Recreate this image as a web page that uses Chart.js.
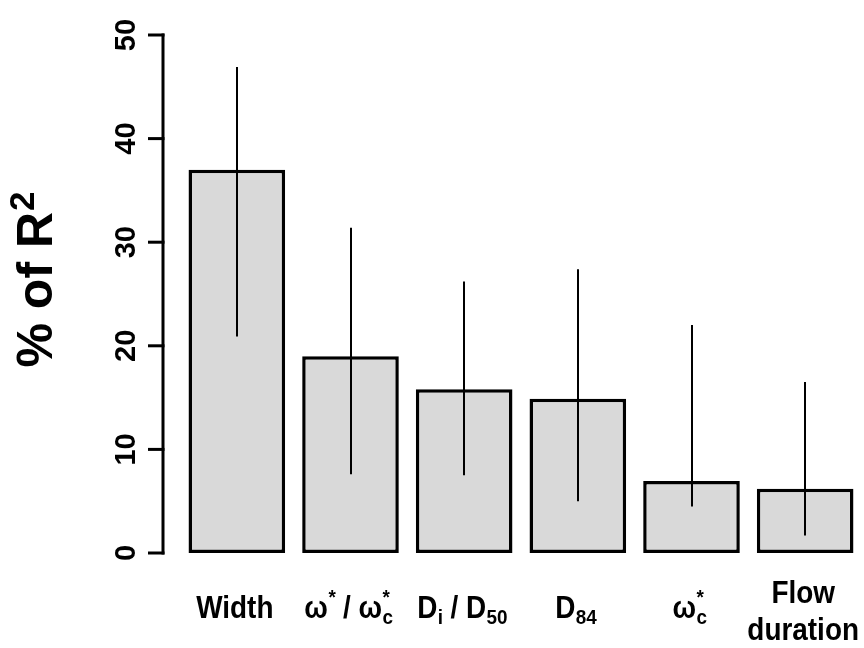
<!DOCTYPE html>
<html>
<head>
<meta charset="utf-8">
<script src="https://cdn.jsdelivr.net/npm/chart.js@4/dist/chart.umd.min.js"></script>
<style>
  html, body { margin: 0; padding: 0; background: #ffffff; }
  #wrap { width: 864px; height: 648px; }
</style>
</head>
<body>
<div id="wrap"><canvas id="c" width="864" height="648"></canvas></div>
<script>
// ---- data ----
const categories = ['Width', 'ω*/ωc*', 'Di/D50', 'D84', 'ωc*', 'Flow duration'];
const values = [37.0, 19.0, 15.8, 14.9, 6.95, 6.2];
const errLow = [20.9, 7.6, 7.5, 5.0, 4.5, 1.7];
const errHigh = [46.9, 31.4, 26.2, 27.4, 22.0, 16.5];
const yTicks = [0, 10, 20, 30, 40, 50];
const yTitle = ['% of R', '2'];
// rich label pieces: each label = lines; each line = segments [base, sub, sup]
const labelLines = [
  [[['Width']]],
  [[['ω', '', '*'], [' / '], ['ω', 'c', '*']]],
  [[['D', 'i'], [' / '], ['D', '50']]],
  [[['D', '84']]],
  [[['ω', 'c', '*']]],
  [[['Flow']], [['duration']]]
];

const FONT = "'Liberation Sans', Arial, sans-serif";

const decorPlugin = {
  id: 'decor',
  afterDatasetsDraw(chart) {
    const ctx = chart.ctx;
    const x = chart.scales.x, y = chart.scales.y;
    ctx.save();
    // error bars
    ctx.strokeStyle = '#000';
    ctx.lineWidth = 2;
    ctx.lineCap = 'butt';
    for (let i = 0; i < values.length; i++) {
      const px = Math.round(x.getPixelForValue(i));
      ctx.beginPath();
      ctx.moveTo(px, y.getPixelForValue(errLow[i]));
      ctx.lineTo(px, y.getPixelForValue(errHigh[i]));
      ctx.stroke();
    }
    // y axis (detached, R style)
    const ax = 163;
    ctx.lineWidth = 3;
    ctx.beginPath();
    ctx.moveTo(ax, y.getPixelForValue(yTicks[0]) + 1.5);
    ctx.lineTo(ax, y.getPixelForValue(yTicks[yTicks.length - 1]) - 1.5);
    ctx.stroke();
    ctx.fillStyle = '#000';
    ctx.font = 'bold 29px ' + FONT;
    ctx.textAlign = 'center';
    ctx.textBaseline = 'alphabetic';
    yTicks.forEach(v => {
      const py = y.getPixelForValue(v);
      ctx.beginPath();
      ctx.moveTo(148, py);
      ctx.lineTo(ax + 1.5, py);
      ctx.stroke();
      ctx.save();
      ctx.translate(135, py);
      ctx.rotate(-Math.PI / 2);
      ctx.fillText(String(v), 0, 0);
      ctx.restore();
    });
    // y title
    ctx.save();
    ctx.translate(52, 280);
    ctx.rotate(-Math.PI / 2);
    ctx.font = 'bold 50px ' + FONT;
    const w1 = ctx.measureText(yTitle[0]).width;
    ctx.font = 'bold 35px ' + FONT;
    const w2 = ctx.measureText(yTitle[1]).width;
    const start = -(w1 + w2) / 2;
    ctx.textAlign = 'left';
    ctx.font = 'bold 50px ' + FONT;
    ctx.fillText(yTitle[0], start, 0);
    ctx.font = 'bold 35px ' + FONT;
    ctx.fillText(yTitle[1], start + w1 + 1, -18);
    ctx.restore();

    // x labels
    const fs = 31, sfs = 21, sx = 0.9;
    const mainF = 'bold ' + fs + 'px ' + FONT;
    const smallF = 'bold ' + sfs + 'px ' + FONT;
    ctx.textAlign = 'left';
    labelLines.forEach((lines, i) => {
      const cx = x.getPixelForValue(i) - 2;
      const nL = lines.length;
      lines.forEach((segs, li) => {
        const base = nL === 1 ? 618 : 603 + li * 37;
        let total = 0;
        const widths = segs.map(s => {
          ctx.font = mainF;
          const wb = ctx.measureText(s[0]).width;
          ctx.font = smallF;
          const ws = s[1] ? ctx.measureText(s[1]).width : 0;
          const wp = s[2] ? ctx.measureText(s[2]).width : 0;
          const w = wb + Math.max(ws, wp);
          total += w;
          return [wb, w];
        });
        ctx.save();
        ctx.translate(cx, base);
        ctx.scale(sx, 1);
        let pos = -total / 2;
        segs.forEach((s, k) => {
          ctx.font = mainF;
          ctx.fillText(s[0], pos, 0);
          ctx.font = smallF;
          if (s[1]) ctx.fillText(s[1], pos + widths[k][0] + 0.5, 6);
          if (s[2]) ctx.fillText(s[2], pos + widths[k][0] + 0.5, -14);
          pos += widths[k][1];
        });
        ctx.restore();
      });
    });
    ctx.restore();
  }
};

new Chart(document.getElementById('c'), {
  type: 'bar',
  data: {
    labels: categories,
    datasets: [{
      data: values,
      backgroundColor: '#d9d9d9',
      borderColor: '#000000',
      borderWidth: 3.5,
      borderSkipped: false,
      barPercentage: 0.85,
      categoryPercentage: 1
    }]
  },
  options: {
    responsive: false,
    animation: false,
    devicePixelRatio: 1,
    layout: { padding: { left: 180, right: 2, top: 35, bottom: 95 } },
    plugins: { legend: { display: false }, tooltip: { enabled: false } },
    scales: {
      x: { display: false },
      y: { display: false, min: 0, max: 50 }
    }
  },
  plugins: [decorPlugin]
});
</script>
</body>
</html>
